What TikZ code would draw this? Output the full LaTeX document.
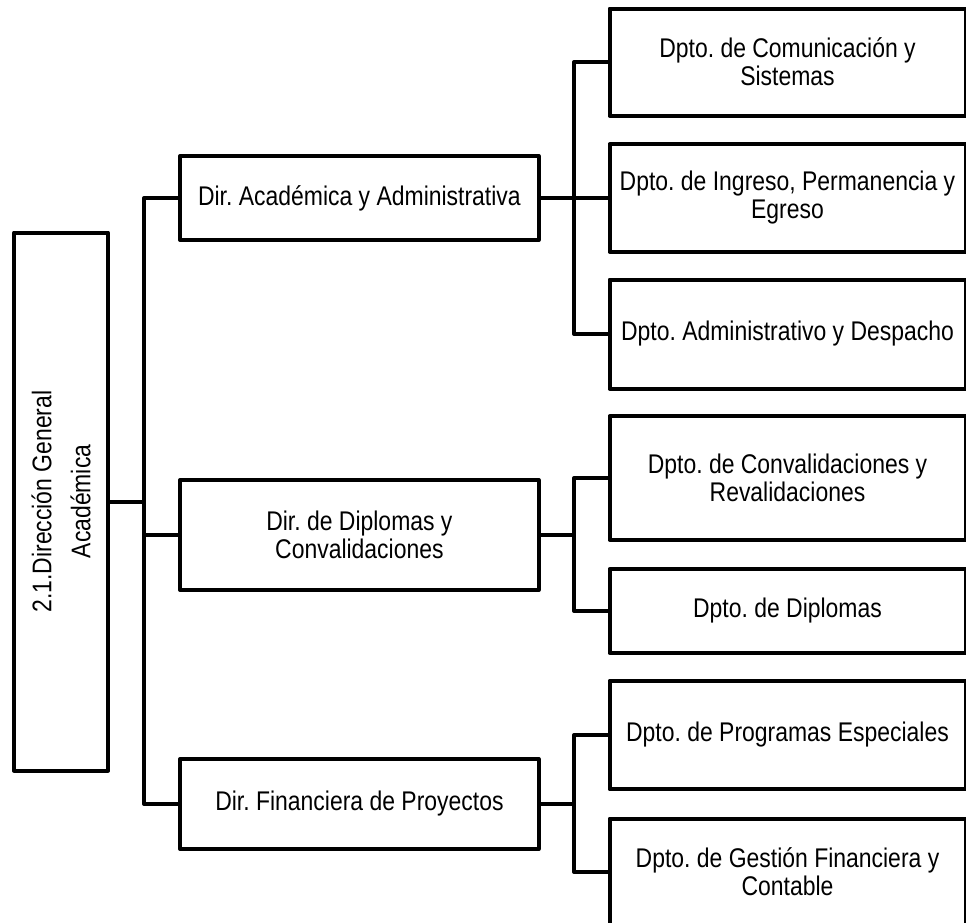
\documentclass[tikz,border=0pt]{standalone}
\usepackage{fontspec}
\setmainfont{Liberation Sans}[FakeStretch=0.85]
\usepackage{tikz}
\frenchspacing
\colorlet{colorBox}{black}
\colorlet{colorLink}{black}
\tikzset{box/.style={draw=colorBox, line width=2pt, line join=round, rectangle, inner sep=0pt, outer sep=0pt, align=center, font=\fontsize{13.5pt}{14pt}\selectfont}}

\begin{document}
\begin{tikzpicture}[x=0.5pt, y=-0.5pt, line width=2pt, line join=round, dir/.style={box, minimum width=179.25pt}, dpt/.style={box, minimum width=178pt}]
\useasboundingbox (0,0) rectangle (966,923);
\node[box, rotate=90, minimum width=269pt, minimum height=47pt, font=\fontsize{13.5pt}{19.5pt}\selectfont] (g0) at (61,501.5) {2.1.Dirección General\\Académica};
\node[dir, minimum height=42pt] (d1) at (359.4,198) {Dir. Académica y Administrativa};
\node[dir, minimum height=55pt] (d2) at (359.4,535) {Dir. de Diplomas y\\Convalidaciones};
\node[dir, minimum height=45pt] (d3) at (359.4,804) {Dir. Financiera de Proyectos};
\node[dpt, minimum height=53.5pt] (p11) at (787.5,62) {Dpto. de Comunicación y\\Sistemas};
\node[dpt, minimum height=53.75pt] (p12) at (787.5,198) {Dpto. de Ingreso, Permanencia y\\Egreso};
\node[dpt, minimum height=54.5pt] (p13) at (787.5,334) {Dpto. Administrativo y Despacho};
\node[dpt, minimum height=61.75pt] (p21) at (787.5,478) {Dpto. de Convalidaciones y\\Revalidaciones};
\node[dpt, minimum height=42pt] (p22) at (787.5,611) {Dpto. de Diplomas};
\node[dpt, minimum height=54.25pt] (p31) at (787.5,735) {Dpto. de Programas Especiales};
\node[dpt, minimum height=53.5pt] (p32) at (787.5,872) {Dpto. de Gestión Financiera y\\Contable};
\coordinate (b1) at (144,0);
\coordinate (b2) at (574,0);
% root to direcciones
\draw[colorLink] (g0.south) -- (g0.south -| b1);
\draw[colorLink] (d1.west) -| (b1 |- d3.west) -- (d3.west);
\draw[colorLink] (d2.west) -- (d2.west -| b1);
% direcciones to departamentos
\draw[colorLink] (d1.east) -- (d1.east -| b2);
\draw[colorLink] (p11.west) -| (b2 |- p13.west) -- (p13.west);
\draw[colorLink] (p12.west) -- (p12.west -| b2);
\draw[colorLink] (d2.east) -- (d2.east -| b2);
\draw[colorLink] (p21.west) -| (b2 |- p22.west) -- (p22.west);
\draw[colorLink] (d3.east) -- (d3.east -| b2);
\draw[colorLink] (p31.west) -| (b2 |- p32.west) -- (p32.west);
\end{tikzpicture}
\end{document}
